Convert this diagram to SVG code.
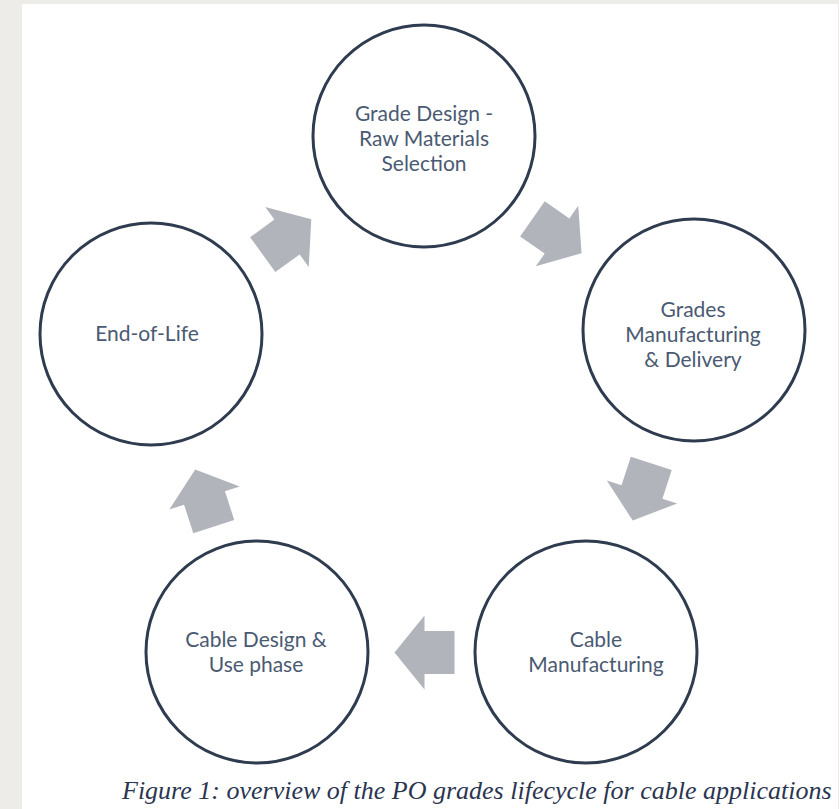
<svg xmlns="http://www.w3.org/2000/svg" width="839" height="809" viewBox="0 0 839 809">
<style>
.node circle{fill:#ffffff;stroke:#2f3b4f;stroke-width:3}
.node text{font-family:Lato,"Open Sans",sans-serif;font-size:21px;fill:#4a5a72;text-anchor:middle}
.arrow{fill:#b1b4bb}
.caption{font-family:"Liberation Serif",serif;font-style:italic;font-size:26px;fill:#2a3550}
</style>
<defs>
<polygon id="blk" points="-30,-21.5 0,-21.5 0,-37 30,0 0,37 0,21.5 -30,21.5"/>
</defs>
<rect x="0" y="0" width="839" height="809" fill="#edece8"/>
<rect x="22" y="4" width="816" height="805" fill="#ffffff"/>
<g id="connectors">
<use href="#blk" class="arrow" transform="translate(287,237) rotate(-36)"/>
<use href="#blk" class="arrow" transform="translate(557,236) rotate(35)"/>
<use href="#blk" class="arrow" transform="translate(642,492) rotate(108)"/>
<use href="#blk" class="arrow" transform="translate(424.5,652.5) rotate(180)"/>
<use href="#blk" class="arrow" transform="translate(204.5,498) rotate(-108)"/>
</g>
<g id="grade-design" class="node">
<circle cx="424" cy="136" r="111"/>
<text x="424" y="121">Grade Design -</text>
<text x="424" y="146">Raw Materials</text>
<text x="424" y="171">Selection</text>
</g>
<g id="grades-manufacturing" class="node">
<circle cx="694" cy="330" r="111"/>
<text x="693" y="317">Grades</text>
<text x="693" y="342">Manufacturing</text>
<text x="693" y="367">&amp; Delivery</text>
</g>
<g id="cable-manufacturing" class="node">
<circle cx="586" cy="652" r="111"/>
<text x="596" y="647">Cable</text>
<text x="596" y="672">Manufacturing</text>
</g>
<g id="cable-design" class="node">
<circle cx="257" cy="652" r="111"/>
<text x="256" y="647">Cable Design &amp;</text>
<text x="256" y="672">Use phase</text>
</g>
<g id="end-of-life" class="node">
<circle cx="151" cy="334" r="111"/>
<text x="147" y="341">End-of-Life</text>
</g>
<text class="caption" x="122" y="799">Figure 1: overview of the PO grades lifecycle for cable applications</text>
</svg>
